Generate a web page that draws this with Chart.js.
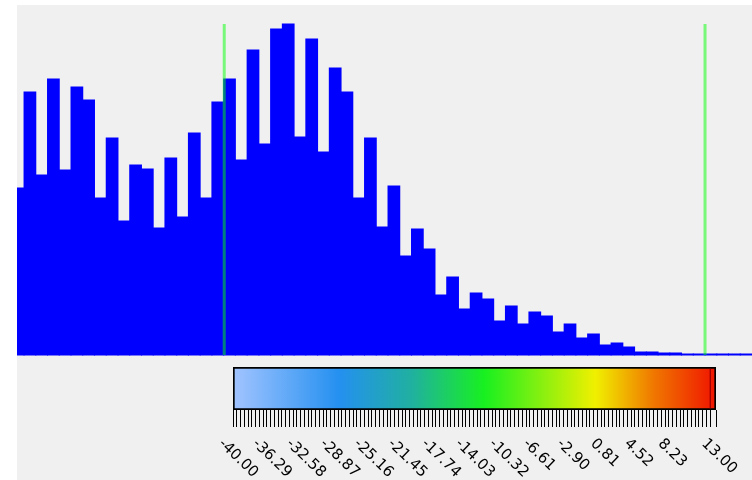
<!DOCTYPE html>
<html>
<head>
<meta charset="utf-8">
<title>histogram</title>
<script src="https://cdn.jsdelivr.net/npm/chart.js@4.4.0/dist/chart.umd.min.js"></script>
<style>
body { margin: 0; background: #fff; width: 752px; height: 480px; overflow: hidden; position: relative; }
#panel { position: absolute; left: 17px; top: 5px; width: 735px; height: 475px; background: #f0f0f0; }
#histChart { position: absolute; left: 0; top: 0; }
#scaleChart { position: absolute; left: 0; top: 360px; }
</style>
</head>
<body>
<div id="panel"></div>
<canvas id="histChart" width="752" height="360"></canvas>
<canvas id="scaleChart" width="752" height="120"></canvas>
<script>
// histogram counts, bin i covers i..i+1 on the x axis
var binCounts = [
	167, 263, 180, 276, 185, 268, 255, 157, 217, 134,
	190, 186, 127, 197, 138, 222, 157, 253, 276, 195,
	305, 211, 326, 331, 218, 316, 203, 287, 263, 157,
	217, 128, 169, 99, 126, 106, 60, 78, 46, 62,
	56, 34, 49, 31, 43, 39, 23, 31, 17, 21,
	10, 12, 8, 3, 3, 2, 2, 0, 0, 0,
	0, 0, 0
];
var binView = [0.4, 63];      // visible part of the bin axis
var countMax = 350;
var markerBins = [18.05, 59.0]; // green limit lines

// colour scale under the histogram
var scaleRange = [-40, 13];
var scaleLabels = [-40.00, -36.29, -32.58, -28.87, -25.16, -21.45, -17.74, -14.03, -10.32, -6.61, -2.90, 0.81, 4.52, 8.23, 13.00];
var scaleStep = 3.71;
var minorPerStep = 9;
var scaleMarker = [12.3, 12.45];

var gradientStops = [
	[0, '#a2c4ff'], [0.22, '#2490f0'], [0.37, '#20b0a0'], [0.52, '#18f020'],
	[0.75, '#f0f000'], [0.87, '#f07800'], [1, '#f01400']
];


var barPoints = binCounts.map(function(c, i) {
	return {x: i + 0.5, y: c};
});
var countTop = Math.max.apply(null, binCounts);

var markerSets = markerBins.map(function(b) {
	return {
		type: 'line',
		data: [{x: b, y: 0}, {x: b, y: countTop}],
		borderColor: 'rgba(0,255,0,0.5)',
		borderWidth: 3,
		pointRadius: 0,
		clip: false,
		order: 0
	};
});

new Chart(document.getElementById('histChart'), {
	type: 'bar',
	data: {
		datasets: [{
			data: barPoints,
			backgroundColor: '#0000ff',
			borderWidth: 0,
			barPercentage: 1,
			categoryPercentage: 1,
			inflateAmount: 0.5,
			minBarLength: 1,
			clip: {left: 0, top: 0, right: 0, bottom: 5},
			order: 1
		}].concat(markerSets)
	},
	options: {
		responsive: false,
		animation: false,
		layout: { padding: {left: 17, top: 5, right: 0, bottom: 5} },
		plugins: { legend: {display: false}, tooltip: {enabled: false} },
		scales: {
			x: { type: 'linear', min: binView[0], max: binView[1], offset: false, display: false },
			y: { min: 0, max: countMax, display: false }
		}
	}
});


function gradientFill(ctx) {
	var area = ctx.chart.chartArea;
	if (!area) return '#2490f0';
	var g = ctx.chart.ctx.createLinearGradient(area.left, 0, area.right, 0);
	gradientStops.forEach(function(s) { g.addColorStop(s[0], s[1]); });
	return g;
}

// rotated labels, reading down to the right
var slantLabels = {
	id: 'slantLabels',
	afterDraw: function(chart) {
		var sc = chart.scales.x;
		var ctx = chart.ctx;
		ctx.save();
		ctx.font = '15px "DejaVu Sans"';
		ctx.fillStyle = '#000';
		ctx.textAlign = 'left';
		ctx.textBaseline = 'top';
		scaleLabels.forEach(function(v) {
			var x = sc.getPixelForValue(v);
			ctx.save();
			ctx.translate(x - 7, sc.bottom + 9);
			ctx.rotate(44 * Math.PI / 180);
			ctx.fillText(v.toFixed(2), 0, 0);
			ctx.restore();
		});
		ctx.restore();
	}
};

new Chart(document.getElementById('scaleChart'), {
	type: 'bar',
	data: {
		labels: ['range'],
		datasets: [{
			data: [scaleRange],
			backgroundColor: gradientFill,
			borderColor: '#000',
			borderWidth: 2,
			borderSkipped: false,
			order: 1
		}, {
			data: [scaleMarker],
			backgroundColor: '#a00000',
			borderWidth: 0,
			barPercentage: 0.92,
			order: 0
		}]
	},
	options: {
		indexAxis: 'y',
		responsive: false,
		animation: false,
		layout: { padding: {left: 233, right: 36, top: 7, bottom: 53} },
		datasets: { bar: { grouped: false, barPercentage: 1, categoryPercentage: 1 } },
		plugins: { legend: {display: false}, tooltip: {enabled: false} },
		scales: {
			x: {
				type: 'linear',
				min: scaleRange[0],
				max: scaleRange[1],
				afterBuildTicks: function(scale) {
					var t = [];
					var minor = scaleStep / minorPerStep;
					for (var j = 0; scaleRange[0] + j * minor < scaleRange[1] - 0.5; j++) {
						t.push({value: scaleRange[0] + j * minor});
					}
					t.push({value: scaleRange[1]});
					scale.ticks = t;
				},
				ticks: { display: false, autoSkip: false },
				grid: { drawOnChartArea: false, drawTicks: true, tickLength: 17, color: '#000', lineWidth: 1 },
				border: { display: false }
			},
			y: { display: false }
		}
	},
	plugins: [slantLabels]
});
</script>
</body>
</html>
